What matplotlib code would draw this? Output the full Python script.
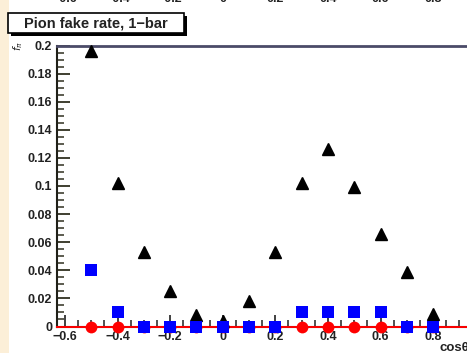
import matplotlib
matplotlib.use("Agg")
import matplotlib.pyplot as plt
from matplotlib.patches import Rectangle
from matplotlib.transforms import blended_transform_factory
import numpy as np

# cos(theta) bin centres
cos_theta = [-0.5, -0.4, -0.3, -0.2, -0.1, 0.0, 0.1, 0.2, 0.3, 0.4, 0.5, 0.6, 0.7, 0.8]
# fake rates for the three selections
rate_tri = [0.196, 0.102, 0.053, 0.0255, 0.0085, 0.0038, 0.0185, 0.053, 0.102, 0.126, 0.099, 0.0655, 0.039, 0.0092]
rate_sq = [0.04, 0.01, 0.0, 0.0, 0.0, 0.0, 0.0, 0.0, 0.01, 0.01, 0.01, 0.01, 0.0, 0.0]
rate_circ = [0.0] * 14

y_ticks = [0, 0.02, 0.04, 0.06, 0.08, 0.1, 0.12, 0.14, 0.16, 0.18, 0.2]
y_labels = ["0", "0.02", "0.04", "0.06", "0.08", "0.1", "0.12", "0.14", "0.16", "0.18", "0.2"]
x_ticks = [-0.6, -0.4, -0.2, 0.0, 0.2, 0.4, 0.6, 0.8]
x_labels = ["\u22120.6", "\u22120.4", "\u22120.2", "0", "0.2", "0.4", "0.6", "0.8"]
upper_labels = ["\u22120.6", "\u22120.4", "\u22120.2", "0", "0.2", "0.4", "0.6", "0.8"]

plt.rcParams["font.family"] = ["Liberation Sans", "DejaVu Sans"]

W, H = 467, 353
fig = plt.figure(figsize=(W / 100, H / 100), dpi=100)
fig.patch.set_facecolor("white")

# cream strip on the left edge
fig.patches.append(Rectangle((0, 0), 9 / W, 1, transform=fig.transFigure,
                             facecolor="#fcefd8", edgecolor="none", zorder=0))

x0, x1 = -0.632, 1.0
left_px, bottom_px, top_px = 56.5, 326.5, 45.5
px_per_unit = 263.0
ax = fig.add_axes([left_px / W, 1 - bottom_px / H,
                   (x1 - x0) * px_per_unit / W, (bottom_px - top_px) / H])
ax.set_xlim(x0, x1)
ax.set_ylim(0, 0.2)
ax.set_facecolor("white")

ax.spines["top"].set_color("#4b4b68")
ax.spines["top"].set_linewidth(2.0)
ax.spines["left"].set_color("#202018")
ax.spines["left"].set_linewidth(1.5)
ax.spines["bottom"].set_color("#202020")
ax.spines["bottom"].set_linewidth(1.5)
ax.spines["right"].set_visible(False)

ax.set_yticks(y_ticks)
ax.set_yticklabels(y_labels)
ax.set_yticks(np.arange(0, 0.2001, 0.005), minor=True)
ax.set_xticks(x_ticks)
ax.set_xticklabels(x_labels)
ax.set_xticks(np.arange(-0.6, 1.0001, 0.05), minor=True)

ax.tick_params(axis="y", which="major", direction="in", length=9, width=1.3,
               color="#303020", labelsize=9, pad=3)
ax.tick_params(axis="y", which="minor", direction="in", length=5, width=1.1,
               color="#303020")
ax.tick_params(axis="x", which="major", direction="in", length=9, width=1.2,
               color="#202020", labelsize=9, pad=3.5)
ax.tick_params(axis="x", which="minor", direction="in", length=5, width=1.1,
               color="#202020")
for lab in ax.get_xticklabels() + ax.get_yticklabels():
    lab.set_fontweight("bold")
    lab.set_color("#222222")

# zero line
ax.axhline(0, color="#ff0000", lw=1.4, zorder=3, clip_on=False)

ax.plot(cos_theta, rate_tri, linestyle="none", marker="^", markersize=8.0,
        color="black", zorder=4, clip_on=False)
ax.plot(cos_theta, rate_circ, linestyle="none", marker="o", markersize=8.5,
        color="#ff0000", markeredgewidth=0, zorder=5, clip_on=False)
ax.plot(cos_theta, rate_sq, linestyle="none", marker="s", markersize=8.3,
        color="#0000ff", markeredgewidth=0, zorder=6, clip_on=False)

# axis titles
fig.text(18 / W, 1 - 46 / H, r"$f_{\pi}$", rotation=90, fontsize=7.5,
         ha="center", va="center", color="#222222")
fig.text(440 / W, 1 - 348 / H, "cos\u03b8", fontsize=9.5, fontweight="bold",
         ha="left", va="center", color="#222222")

# tick labels of the panel above, running off the top edge
trans = blended_transform_factory(ax.transData, fig.transFigure)
for xv, lab in zip(x_ticks, upper_labels):
    fig.text(xv, 1 + 1 / H, lab, transform=trans, fontsize=9, fontweight="bold",
             ha="center", va="center", color="#222222")

# title box with shadow
bx0, by0, bx1, by1 = 8, 13, 184, 33
fig.patches.append(Rectangle(((bx0 + 3) / W, 1 - (by1 + 3) / H), (bx1 - bx0) / W,
                             (by1 - by0) / H, transform=fig.transFigure,
                             facecolor="black", edgecolor="none", zorder=8))
fig.patches.append(Rectangle((bx0 / W, 1 - by1 / H), (bx1 - bx0) / W,
                             (by1 - by0) / H, transform=fig.transFigure,
                             facecolor="white", edgecolor="black", lw=1.2, zorder=9))
fig.text((bx0 + bx1) / 2 / W, 1 - (by0 + by1) / 2 / H, "Pion fake rate, 1\u2212bar",
         fontsize=10.5, fontweight="bold", ha="center", va="center",
         color="#222222", zorder=10)

fig.savefig("out.png", dpi=100)
